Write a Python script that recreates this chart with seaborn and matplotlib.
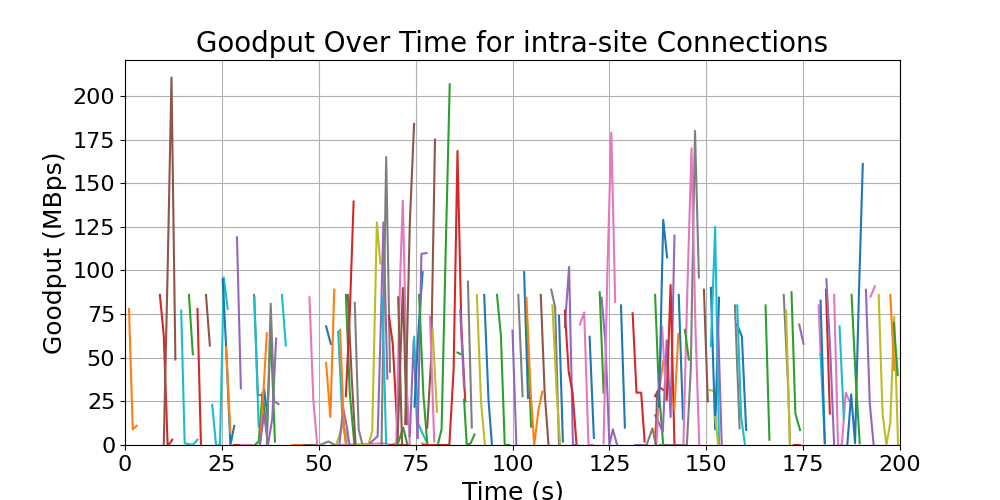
"""
Goodput Over Time for intra-site Connections
Each connection is a short line, values read off the reference picture.
"""

import pandas as pd
import matplotlib
matplotlib.use('Agg')
import matplotlib.pyplot as plt
import seaborn as sns

# ---------------------------------------------------------------
# Data: one list per connection, grouped by line colour
# ---------------------------------------------------------------
blue_times = [[25.2, 26.1, 27.2, 28.2], [34.8, 35.9, 36.7], [51.9, 53.1], [74.7, 75.8, 76.8],
              [92.7, 93.8, 94.7], [103, 104], [112, 113], [119.9, 121], [128, 129],
              [137.8, 138.9, 139.9], [142.9, 144], [151.2, 152.3, 153.3], [158, 159.2, 160.3],
              [179.5, 180.6], [186.4, 187.4, 188.4, 189.4, 190.4]]
blue_rates = [[95, 56, 0, 11], [0, 32, 18], [68, 58], [22, 68, 99],
              [86, 26, 0], [99, 27], [74, 2], [62, 4], [80, 10],
              [22, 129, 107.5], [86, 15], [90, 9, 84.4], [69, 62, 8.6],
              [82.7, 1], [0, 29, 1, 87, 161]]

orange_times = [[1.03, 2, 3], [26.1, 27.2], [34.8, 35.9, 36.6], [43, 46.2], [51.9, 53, 54],
                [55.5, 56.5, 57], [103.6, 104.7, 105.6, 106.7, 107.7], [136.8, 137.8, 138.9],
                [141.8, 142.8], [197.5, 198.5]]
orange_rates = [[78, 9, 11], [56, 7], [0, 37, 64], [0, 0], [47, 16, 89],
                [66, 10, 0], [84.4, 30, 0, 20, 30.6], [7, 30, 48],
                [21, 63.6], [86, 43]]

green_times = [[16.5, 17.5], [33.5, 34.5, 35.5, 36.6, 37.6, 38.7], [57, 58, 59.2], [70.3, 71.8, 72.9],
               [75.9, 77, 78], [80.7, 81.7, 82.7, 83.8], [85.8, 86.7], [87.5, 88.2, 89.2, 90.2],
               [96, 97, 98, 99.2], [103.6, 104.8], [122.5, 123.5], [136.8, 137.8, 138.9],
               [144.5, 145.5], [165.3, 166.3], [172, 173, 174.2], [187.5, 188.6, 189.6],
               [198.4, 199.4]]
green_rates = [[86, 52], [0, 2, 30, 7, 65, 2], [86, 30, 0], [0, 10, 0],
               [86, 29, 1], [0, 9, 106, 206.7], [53, 52], [26, 0, 1, 6],
               [86, 63, 0, 0], [78, 10.5], [87.5, 30], [86, 30, 0],
               [66, 49], [80, 3], [87.5, 18, 8.6], [86, 37, 1],
               [70, 40]]

red_times = [[9, 10, 11, 11.6, 12.2], [18.7, 19.6], [28.2, 30.7], [57, 58, 59], [68.1, 69.1, 70.2, 70.3],
             [68.5, 73.5], [76.9, 83.7, 84.8, 85.8, 86.8, 87.8], [113.5, 114.5, 115.5, 116.5],
             [131, 132, 133.2, 134.1], [136.8, 138, 139], [139.8, 140.8, 141.8],
             [172.7, 174.1], [180.9, 181.9]]
red_rates = [[86, 63, 0, 1, 3], [78, 0], [0, 0], [28, 75, 139.5], [74, 58, 12, 0],
             [0, 0], [0, 0, 43, 168.5, 68, 25], [77, 42, 30, 1],
             [75.5, 30, 30, 2], [28, 33, 31.5], [26, 91.7, 0],
             [0, 0], [89, 18]]

purple_times = [[28.9, 29.9], [34.8, 35.9, 36.9, 38, 39], [55.3, 56.3, 57.3, 57.9],
                [63.2, 65.2, 66, 66.7, 67.7], [73.5, 74.5, 75.5], [75.5, 76.5, 77.8],
                [86.5, 87.5], [100, 101], [113.5, 114.6, 115.6, 116.7],
                [123, 124, 125, 125.9, 127], [131.5, 134.6],
                [136.8, 137.8, 138.8, 139.8, 140.8, 141.8], [153, 154], [174, 175.1],
                [181, 182, 183], [191.2, 192.2, 193.2]]
purple_rates = [[119, 32.5], [0, 18, 0, 15, 61], [0, 21, 10, 0],
                [1, 5, 68, 127.6, 38], [5, 60, 4], [4, 109.5, 110],
                [77, 33], [65.5, 0], [67.5, 102, 0, 0],
                [84.4, 58, 0, 9, 0], [0, 0],
                [17, 12.4, 7.6, 60, 16, 120], [72.6, 0], [69, 58],
                [95, 54, 0], [89, 24, 0]]

brown_times = [[10, 11, 12, 13], [20.9, 21.9], [46.2, 49.5], [57.5, 58.5, 59.5], [70.5, 71.5],
               [70.3, 71.7, 72.7], [72.3, 73.5, 74.6], [78, 79, 80], [107.3, 108.3, 109.3],
               [137, 137.3], [149.4, 150.4]]
brown_rates = [[0, 100, 210.6, 49], [86, 57], [0, 0], [86, 39, 0], [84.6, 1],
               [0, 90, 12], [12, 127, 184], [10, 49, 175], [86, 30, 0],
               [0, 30], [89, 25]]

pink_times = [[30, 32.7], [47.6, 48.6, 49.6], [55, 67, 68.5, 70], [70, 71, 71.7, 72.8, 73.5],
              [78.7, 79.8], [117.4, 118.5, 119.6, 120.7], [123.5, 124.5, 125.5, 126.5],
              [137.2, 138.6, 139.7], [144.1, 145.1, 146.2, 147.2, 148.2], [179, 179.5],
              [183, 184, 185, 186, 187], [192.4, 193.5]]
pink_rates = [[0, 0], [84.6, 26, 0], [0, 1, 0, 1], [0, 96, 140, 30, 0],
              [73.5, 2], [69, 76, 0, 0], [1, 100, 179, 82],
              [2, 68, 26], [0, 87, 170, 68, 0], [80, 52],
              [86, 0, 0, 30, 25], [85, 91]]

gray_times = [[33.3, 34.3, 35.3], [36.6, 37.6, 38.5, 39.6], [50.3, 52.5, 54.2], [59.3, 60.3, 61.3],
              [66.2, 67.4, 68.4], [88.5, 89.5], [101.5, 102.6], [110, 111, 112],
              [134.6, 136.1, 137], [138, 145, 146, 147.1, 148.1], [157.4, 158.6], [170, 171.2, 171.6]]
gray_rates = [[86, 28.6, 28.6], [0, 81, 25, 23.5], [0, 2, 0], [81.5, 9, 0],
              [0, 165, 42], [93.6, 10], [86, 28], [89, 79, 0],
              [0, 9.5, 0], [0, 0, 43, 180, 96], [80, 9.6], [86, 30, 0]]

olive_times = [[54.5, 56.3, 57.9], [59.8, 62.8, 63.8, 65, 65.9], [76.7, 78], [79.4, 80.5], [90.8, 91.9, 92.9],
               [110.3, 111.4, 112.3], [150.8, 151.8], [152.3, 153.1], [170.6, 171.6],
               [194.5, 195.5, 196.5, 197.5, 198.5, 199.5]]
olive_rates = [[0, 12, 0], [0, 0, 8, 127.6, 104], [1, 0], [66, 19], [86, 24, 0],
               [80, 30, 0], [31.5, 31], [16, 0], [77, 0],
               [86, 18, 0, 13, 73.5, 0]]

cyan_times = [[14.5, 15.4, 17.5, 18.7], [22.5, 23.5, 24.5, 25.5, 26.5], [33.4, 34.5], [40.5, 41.5],
              [55, 56, 57.1], [66.4, 67.4], [74.6, 75.7, 76.7, 77.8], [151.2, 152.3, 153.3],
              [158, 159, 160], [179.5, 180.6], [184.4, 185.5]]
cyan_rates = [[77, 1, 0, 3], [23, 0, 0, 96, 78], [84.6, 10.5], [86, 57],
              [65, 20, 0], [84.6, 0], [62, 12, 7, 2], [56.7, 125, 0],
              [80, 16, 0], [52, 1], [68, 15]]

y_ticks = [0, 25, 50, 75, 100, 125, 150, 175, 200]
x_ticks = [0, 25, 50, 75, 100, 125, 150, 175, 200]

# ---------------------------------------------------------------
# Long table, one row per sample
# ---------------------------------------------------------------
groups = [
    ('tab:blue', blue_times, blue_rates),
    ('tab:orange', orange_times, orange_rates),
    ('tab:green', green_times, green_rates),
    ('tab:red', red_times, red_rates),
    ('tab:purple', purple_times, purple_rates),
    ('tab:brown', brown_times, brown_rates),
    ('tab:pink', pink_times, pink_rates),
    ('tab:gray', gray_times, gray_rates),
    ('tab:olive', olive_times, olive_rates),
    ('tab:cyan', cyan_times, cyan_rates),
]

rows = []
palette = {}
conn = 0
for color, all_times, all_rates in groups:
    for times, rates in zip(all_times, all_rates):
        palette[conn] = color
        for t, r in zip(times, rates):
            rows.append({'conn': conn, 'time': t, 'goodput': r})
        conn += 1
df = pd.DataFrame(rows)

# connections that start later are drawn on top
draw_order = df.groupby('conn')['time'].min().sort_values().index.tolist()

# ---------------------------------------------------------------
# Plot
# ---------------------------------------------------------------
fig, ax = plt.subplots(figsize=(10, 5), dpi=100)
sns.lineplot(data=df, x='time', y='goodput', hue='conn', hue_order=draw_order,
             palette=palette, estimator=None, sort=False, legend=False, ax=ax)

ax.set_xlim(0, 200)
ax.set_ylim(0, 220.6)
ax.set_xticks(x_ticks)
ax.set_yticks(y_ticks)
ax.grid(True)
ax.tick_params(labelsize=16)
ax.set_xlabel('Time (s)', fontsize=18)
ax.set_ylabel('Goodput (MBps)', fontsize=18)
ax.set_title('Goodput Over Time for intra-site Connections', fontsize=20)

fig.savefig('out.png', dpi=100)
plt.close(fig)
